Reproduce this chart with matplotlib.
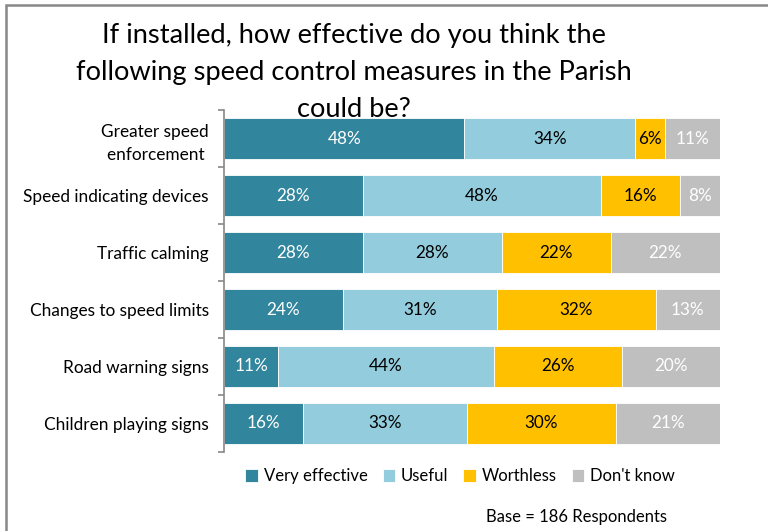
import matplotlib.pyplot as plt
import numpy as np
from matplotlib.patches import Rectangle

plt.rcParams['font.family'] = ['Lato', 'DejaVu Sans']

categories = ['Greater speed\nenforcement ', 'Speed indicating devices', 'Traffic calming',
              'Changes to speed limits', 'Road warning signs', 'Children playing signs']
series = ['Very effective', 'Useful', 'Worthless', "Don't know"]
very_effective = [48, 28, 28, 24, 11, 16]
useful = [34, 48, 28, 31, 44, 33]
worthless = [6, 16, 22, 32, 26, 30]
dont_know = [11, 8, 22, 13, 20, 21]
colors = ['#31859C', '#93CDDD', '#FFC000', '#BFBFBF']
text_colors = ['white', 'black', 'black', 'white']


def main():
    data = np.array([very_effective, useful, worthless, dont_know], dtype=float)
    shares = data / data.sum(axis=0) * 100

    fig = plt.figure(figsize=(7.68, 5.31), dpi=100)
    ax = fig.add_axes([0.2917, 0.1488, 0.6458, 0.644])

    y = np.arange(len(categories))
    left = np.zeros(len(categories))
    for i, name in enumerate(series):
        ax.barh(y, shares[i], left=left, height=0.72, color=colors[i], label=name,
                edgecolor='white', linewidth=0.6)
        for j in range(len(categories)):
            ax.text(left[j] + shares[i][j] / 2, y[j], '%d%%' % data[i][j],
                    ha='center', va='center', fontsize=12.3, color=text_colors[i])
        left += shares[i]

    ax.set_xlim(0, 100)
    ax.set_ylim(len(categories) - 0.5, -0.5)
    ax.set_yticks(y)
    ax.set_yticklabels(categories, fontsize=12.4, linespacing=1.5)
    ax.set_yticks(np.arange(-0.5, len(categories)), minor=True)
    ax.tick_params(axis='y', which='major', length=0, pad=11)
    ax.tick_params(axis='y', which='minor', length=4, color='#888888', width=1.2)
    ax.set_xticks([])
    for s in ['top', 'right', 'bottom']:
        ax.spines[s].set_visible(False)
    ax.spines['left'].set_color('#888888')
    ax.spines['left'].set_linewidth(1.2)

    fig.text(0.461, 0.864, 'If installed, how effective do you think the\n'
             'following speed control measures in the Parish\ncould be?',
             ha='center', va='center', fontsize=19.6, linespacing=1.6)

    fig.legend(loc='center', bbox_to_anchor=(0.599, 0.103), ncol=4, frameon=False,
               fontsize=12, handlelength=0.75, handleheight=0.75, handletextpad=0.35,
               columnspacing=0.9)

    fig.text(0.75, 0.026, 'Base = 186 Respondents', ha='center', va='center', fontsize=12)

    fig.patches.append(Rectangle((0.008, -0.1), 1.2, 1.09, transform=fig.transFigure,
                                 fill=False, edgecolor='#888888', linewidth=1.8))

    fig.savefig('out.png', dpi=100)


if __name__ == "__main__":
    main()
